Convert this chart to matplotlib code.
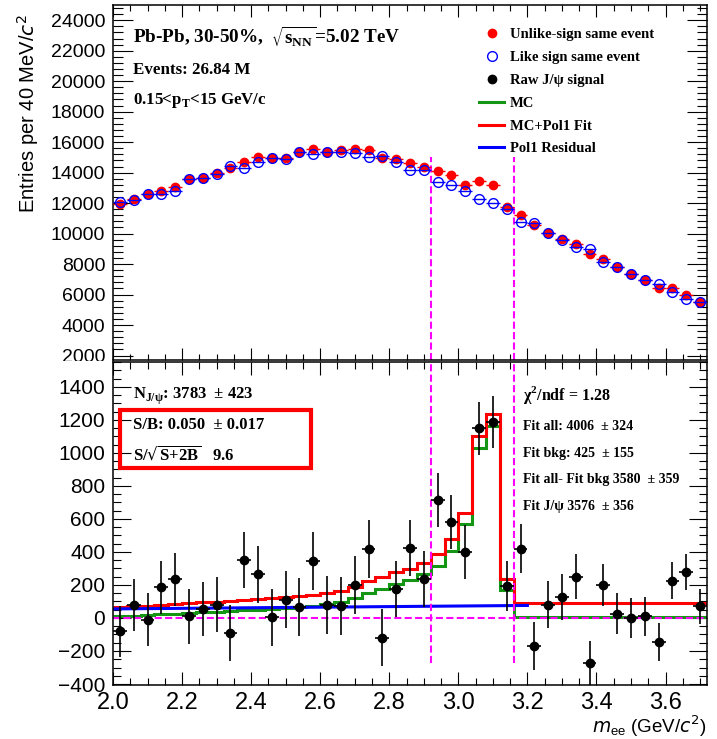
import numpy as np
import matplotlib
matplotlib.use('Agg')
import matplotlib.pyplot as plt
from matplotlib.patches import Rectangle
from matplotlib.lines import Line2D
from matplotlib.ticker import MultipleLocator

plt.rcParams['font.family'] = ['Liberation Sans', 'DejaVu Sans']
plt.rcParams['mathtext.fontset'] = 'dejavusans'

# binning: 40 MeV bins from 2.00 to 3.72 GeV/c^2
BIN_LOW = 2.0
BIN_WIDTH = 0.04
N_BINS = 43

UNLIKE = [11950, 12240, 12590, 12790, 13070, 13550, 13660, 13990, 14320, 14670,
          15040, 14930, 14970, 15340, 15560, 15340, 15480, 15560, 15480, 14930,
          14870, 14620, 14380, 14120, 13840, 13220, 13460, 13180, 11720, 11210,
          10540, 10050, 9640, 9290, 8660, 8310, 7830, 7370, 6950, 6450,
          6410, 5970, 5530]
LIKE = [12050, 12200, 12590, 12590, 12810, 13550, 13620, 13900, 14430, 14320,
        14710, 14930, 14890, 15340, 15210, 15340, 15370, 15320, 15040, 15080,
        14730, 14160, 14160, 13400, 13220, 12790, 12280, 11980, 11590, 10770,
        10710, 10050, 9570, 9100, 8960, 8150, 7830, 7370, 6950, 6670,
        6140, 5700, 5490]
SIGNAL = [-80, 80, -10, 185, 235, 10, 55, 80, -90, 350,
          265, 5, 110, 65, 345, 80, 75, 200, 420, -120,
          175, 425, 235, 715, 580, 400, 1150, 1190, 195, 420,
          -170, 80, 125, 250, -275, 200, 25, 0, 10, -145,
          225, 280, 70]
SIGNAL_ERR = [155, 157, 159, 160, 161, 165, 165, 167, 169, 170,
              172, 173, 173, 175, 175, 175, 176, 176, 175, 173,
              172, 170, 169, 166, 164, 162, 160, 158, 153, 148,
              146, 142, 139, 136, 135, 127, 125, 121, 118, 114,
              112, 108, 105]
MC = [11, 14, 18, 22, 26, 30, 34, 38, 42, 46,
      50, 55, 60, 66, 73, 82, 96, 120, 150, 178,
      205, 228, 265, 316, 406, 567, 1030, 1165, 171, 4,
      4, 4, 4, 4, 4, 4, 4, 4, 4, 4,
      4, 4, 4]
MC_POL1 = [66, 70, 75, 80, 85, 90, 94, 99, 104, 109,
           114, 120, 126, 133, 141, 150, 165, 190, 222, 250,
           278, 298, 336, 386, 477, 638, 1100, 1237, 235, 88,
           88, 88, 88, 88, 88, 88, 88, 88, 88, 88,
           88, 88, 88]
POL1_X = [2.0, 3.2]
POL1_Y = [55, 76]
WINDOW = [2.92, 3.16]

GREEN = '#149614'
MAGENTA = '#ff00ff'
SERIF = dict(family='Liberation Serif', weight='bold')


def style_axes(ax, xlen, ylen, ylabsize):
    ax.tick_params(which='both', direction='in', top=True, right=True, width=0.8)
    ax.tick_params(axis='x', which='major', length=xlen[0])
    ax.tick_params(axis='x', which='minor', length=xlen[1])
    ax.tick_params(axis='y', which='major', length=ylen[0], labelsize=ylabsize, pad=5.5)
    ax.tick_params(axis='y', which='minor', length=ylen[1])
    ax.xaxis.set_major_locator(MultipleLocator(0.2))
    ax.xaxis.set_minor_locator(MultipleLocator(0.05))
    for sp in ax.spines.values():
        sp.set_linewidth(1.1)


def plot():
    edges = BIN_LOW + BIN_WIDTH * np.arange(N_BINS + 1)
    centers = edges[:-1] + BIN_WIDTH / 2

    fig = plt.figure(figsize=(7.17, 7.39), dpi=100)
    ax1 = fig.add_axes([113 / 717, 1 - 360 / 739, 594 / 717, 355 / 739])
    ax2 = fig.add_axes([113 / 717, 1 - 685 / 739, 594 / 717, 323 / 739])

    # ---- top panel: same-event spectra
    ax1.errorbar(centers, UNLIKE, xerr=BIN_WIDTH / 2, fmt='o', color='red', ms=6,
                 elinewidth=1, capsize=0, zorder=3)
    ax1.errorbar(centers, LIKE, xerr=BIN_WIDTH / 2, fmt='o', color='blue', mfc='none',
                 mec='blue', mew=1, ms=7, elinewidth=1, capsize=0, zorder=4)
    ax1.set_xlim(2.0, 3.72)
    ax1.set_ylim(1705, 25000)
    ax1.vlines(WINDOW, 1705, 15000, colors=MAGENTA, linestyles=(0, (3.4, 1.6)), lw=1.5)
    style_axes(ax1, (8.6, 4.3), (14.4, 7.2), 14)
    ax1.yaxis.set_major_locator(MultipleLocator(2000))
    ax1.yaxis.set_minor_locator(MultipleLocator(400))
    ax1.tick_params(labelbottom=False)
    ax1.set_ylabel('Entries per 40 MeV/$c^2$', fontsize=14.5, loc='top')
    ax1.yaxis.set_label_coords(-0.122, 0.975)

    ax1.text(0.034, (360 - 43) / 355, r'Pb-Pb, 30-50%,  $\sqrt{\mathregular{s}_{\mathregular{NN}}}$=5.02 TeV',
             transform=ax1.transAxes, fontsize=13.8, va='baseline', **SERIF)
    ax1.text(0.034, (360 - 74) / 355, 'Events: 26.84 M', transform=ax1.transAxes,
             fontsize=12.2, va='baseline', **SERIF)
    ax1.text(0.034, (360 - 104) / 355, r'0.15<p$_{\mathregular{T}}$<15 GeV/c', transform=ax1.transAxes,
             fontsize=12.2, va='baseline', **SERIF)

    handles = [
        Line2D([], [], ls='none', marker='o', color='red', ms=6),
        Line2D([], [], ls='none', marker='o', mfc='none', mec='blue', mew=1, ms=7),
        Line2D([], [], ls='none', marker='o', color='black', ms=6),
        Line2D([], [], color=GREEN, lw=2.2),
        Line2D([], [], color='red', lw=2.2),
        Line2D([], [], color='blue', lw=2.2),
    ]
    labels = ['Unlike-sign same event', 'Like sign same event', 'Raw J/ψ signal',
              'MC', 'MC+Pol1 Fit', 'Pol1 Residual']
    ax1.legend(handles, labels, loc='upper left', bbox_to_anchor=(0.617, 0.935),
               frameon=False, prop=dict(size=10.5, **SERIF), handlelength=1.65,
               handletextpad=0.45, labelspacing=0.66, borderpad=0, borderaxespad=0)

    # ---- bottom panel: raw signal with MC fit
    ax2.stairs(MC, edges, color=GREEN, lw=2.2, baseline=None, zorder=2)
    ax2.stairs(MC_POL1, edges, color='red', lw=2.2, baseline=None, zorder=2.1)
    ax2.plot(POL1_X, POL1_Y, color='blue', lw=2.2, zorder=2.2)
    ax2.axhline(0, color=MAGENTA, ls=(0, (3.4, 1.6)), lw=1.5, zorder=2.3)
    ax2.vlines(WINDOW, -270, 1560, colors=MAGENTA, linestyles=(0, (3.4, 1.6)), lw=1.5, zorder=2.3)
    ax2.errorbar(centers, SIGNAL, yerr=SIGNAL_ERR, xerr=BIN_WIDTH / 2, fmt='o', color='black',
                 ms=6, elinewidth=1.2, capsize=0, zorder=3)
    ax2.set_xlim(2.0, 3.72)
    ax2.set_ylim(-406, 1551)
    style_axes(ax2, (9.4, 5), (13, 5.8), 15)
    ax2.yaxis.set_major_locator(MultipleLocator(200))
    ax2.yaxis.set_minor_locator(MultipleLocator(50))
    ax2.tick_params(axis='x', labelsize=17, pad=5)
    ax2.set_xlabel(r'$m_{\mathregular{ee}}$ (GeV/$c^2$)', fontsize=13.5, loc='right')
    ax2.xaxis.set_label_coords(1.0, -(733 - 685) / 323)
    ax2.xaxis.label.set_va('baseline')

    def at(px, py):
        return (px - 113) / 594, (685 - py) / 323

    ax2.text(*at(133, 399), r'N$_{\mathregular{J/ψ}}$: 3783  ± 423', transform=ax2.transAxes,
             fontsize=12, va='baseline', **SERIF)
    ax2.text(*at(133, 429), 'S/B: 0.050  ± 0.017', transform=ax2.transAxes,
             fontsize=12, va='baseline', **SERIF)
    ax2.text(*at(133, 460), r'S/$\sqrt{\mathregular{S{+}2B}}$   9.6', transform=ax2.transAxes,
             fontsize=12, va='baseline', **SERIF)
    ax2.add_patch(Rectangle(at(120, 468), 191 / 594, 58 / 323, transform=ax2.transAxes,
                            fill=False, edgecolor='red', lw=3, clip_on=False, zorder=5))

    ax2.text(*at(523, 400), 'χ$^{\\mathregular{2}}$/ndf = 1.28', transform=ax2.transAxes,
             fontsize=11.5, va='baseline', **SERIF)
    right_lines = [('Fit all: 4006  ± 324', 430), ('Fit bkg: 425  ± 155', 457),
                   ('Fit all- Fit bkg 3580  ± 359', 483), ('Fit J/ψ 3576  ± 356', 510)]
    for txt, py in right_lines:
        ax2.text(*at(523, py), txt, transform=ax2.transAxes, fontsize=10,
                 va='baseline', **SERIF)

    # the lower pad hides the bottom half of the top "2000" label
    fig.add_artist(Rectangle((0, 1 - 367 / 739), 110 / 717, 6.5 / 739, transform=fig.transFigure,
                             facecolor='white', edgecolor='none', zorder=10))

    fig.savefig('out.png', dpi=100)
    plt.close(fig)


if __name__ == '__main__':
    plot()
